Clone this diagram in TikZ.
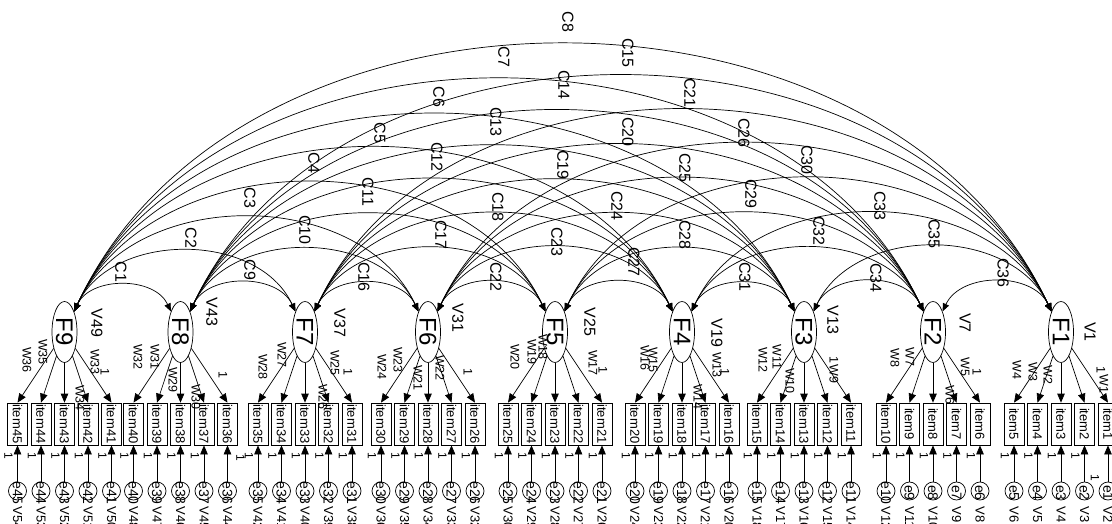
\documentclass[tikz,border=0pt]{standalone}
\usepackage{fontspec}
\setmainfont{Liberation Sans}
\usepackage{graphicx}
\usetikzlibrary{arrows.meta,shapes.geometric}

\begin{document}
\begin{tikzpicture}[x=1pt,y=1pt,line width=0.7pt,
  lv/.style={draw,ellipse,minimum width=25pt,minimum height=61pt,inner sep=0pt},
  ob/.style={draw,rectangle,minimum width=20pt,minimum height=42pt,inner sep=0pt,font=\fontsize{13}{13}\selectfont},
  er/.style={draw,circle,minimum size=18pt,inner sep=0pt},
  tx/.style={rotate=-90,inner sep=0pt,font=\fontsize{#1}{#1}\selectfont},
  a/.style={-{Triangle[length=9pt,width=7.5pt]}},
  cv/.style={{Triangle[length=8pt,width=6.5pt]}-{Triangle[length=8pt,width=6.5pt]},bend left=65,looseness=1.03}]
\useasboundingbox (0,0) rectangle (1112,-524);
\foreach \g/\cx/\vx/\vy in {1/1061/1090/332,2/933/965/323,3/804/833/320,4/682/717/333,5/555/590/322,
  6/428/458/318,7/305/340/323,8/180.5/212/312,9/64.5/97/323}{
  \node[lv] (F\g) at (\cx,-332) {};
  \node[tx=24] (tF\g) at (F\g) {F\g};
  \pgfmathtruncatemacro\vf{6*(\g-1)+1}
  \node[tx=16] (vF\g) at (\vx,-\vy) {V\vf};
  \foreach \p in {1,...,5}{
    \pgfmathtruncatemacro\j{5*(\g-1)+\p}
    \pgfmathtruncatemacro\vv{6*(\g-1)+1+\p}
    \pgfmathsetmacro\ix{\cx+(3-\p)*23.5}
    \node[ob] (item\j) at (\ix,-424) {\rotatebox{-90}{item\j}};
    \node[er] (e\j) at (\ix,-491) {};
    \node[tx=14] (te\j) at (\ix,-493) {e\j};
    \node[tx=13,anchor=west] (ve\j) at (\ix,-506) {V\vv};
    \ifnum\j=36 \def\ox{13}\def\oy{458}\else\ifnum\j=1 \def\ox{-13}\def\oy{478}\else\def\ox{-9}\def\oy{456}\fi\fi
    \node[tx=12] (o\j) at (\ix+\ox,-\oy) {1};
    \draw[a] (F\g) -- (item\j.north);
    \draw[a] (e\j) -- (item\j.south);
  }
}
\foreach \x/\y/\t [count=\k] in {27/360/W36,43/352/W35,80/398/W34,95/362/W33,105/372/1,
  138/357/W32,155/357/W31,173/380/W29,196/397/W30,223/375/1,
  263/367/W28,282/355/W27,323/397/W26,335/363/W25,348/372/1,
  382/367/W24,398/360/W23,418/378/W21,440/368/W22,468/372/1,
  515/357/W20,532/352/W19,543/347/W18,593/363/W17,603/370/1,
  645/358/W16,653/360/W15,698/397/W14,717/365/W13,725/372/1,
  763/360/W12,777/357/W11,790/381/W10,834/360/1,834/374/W9,
  895/358/W8,910/357/W7,950/395/W6,965/367/W5,977/372/1,
  1017/370/W4,1033/372/W3,1048/375/W2,1101/370/1,1104/384/W1}
  \node[tx=12.5] (w\k) at (\x,-\y) {\t};
\foreach \a in {2,...,9}{
  \pgfmathtruncatemacro\m{\a-1}
  \foreach \b in {1,...,\m}
    \draw[cv] (F\a) to (F\b);
}
\foreach \c/\x/\y in {1/121/272,2/191/238,3/250/198,4/314/163,5/380/133,6/439/97,7/504/57,8/568/22,
  9/250/270,10/305/230,11/368/192,12/437/157,13/496/122,14/564/85,15/628/53,
  16/364/277,17/441/235,18/498/207,19/563/165,20/628/132,21/690/93,
  22/496/277,23/557/242,24/617/206,25/685/168,26/744/133,
  27/634/262,28/685/235,29/751/194,30/807/160,
  31/745/277,32/819/231,33/880/206,34/876/278,35/934/234,36/1003/273}
  \node[tx=16] (c\c) at (\x,-\y) {C\c};
\end{tikzpicture}
\end{document}
